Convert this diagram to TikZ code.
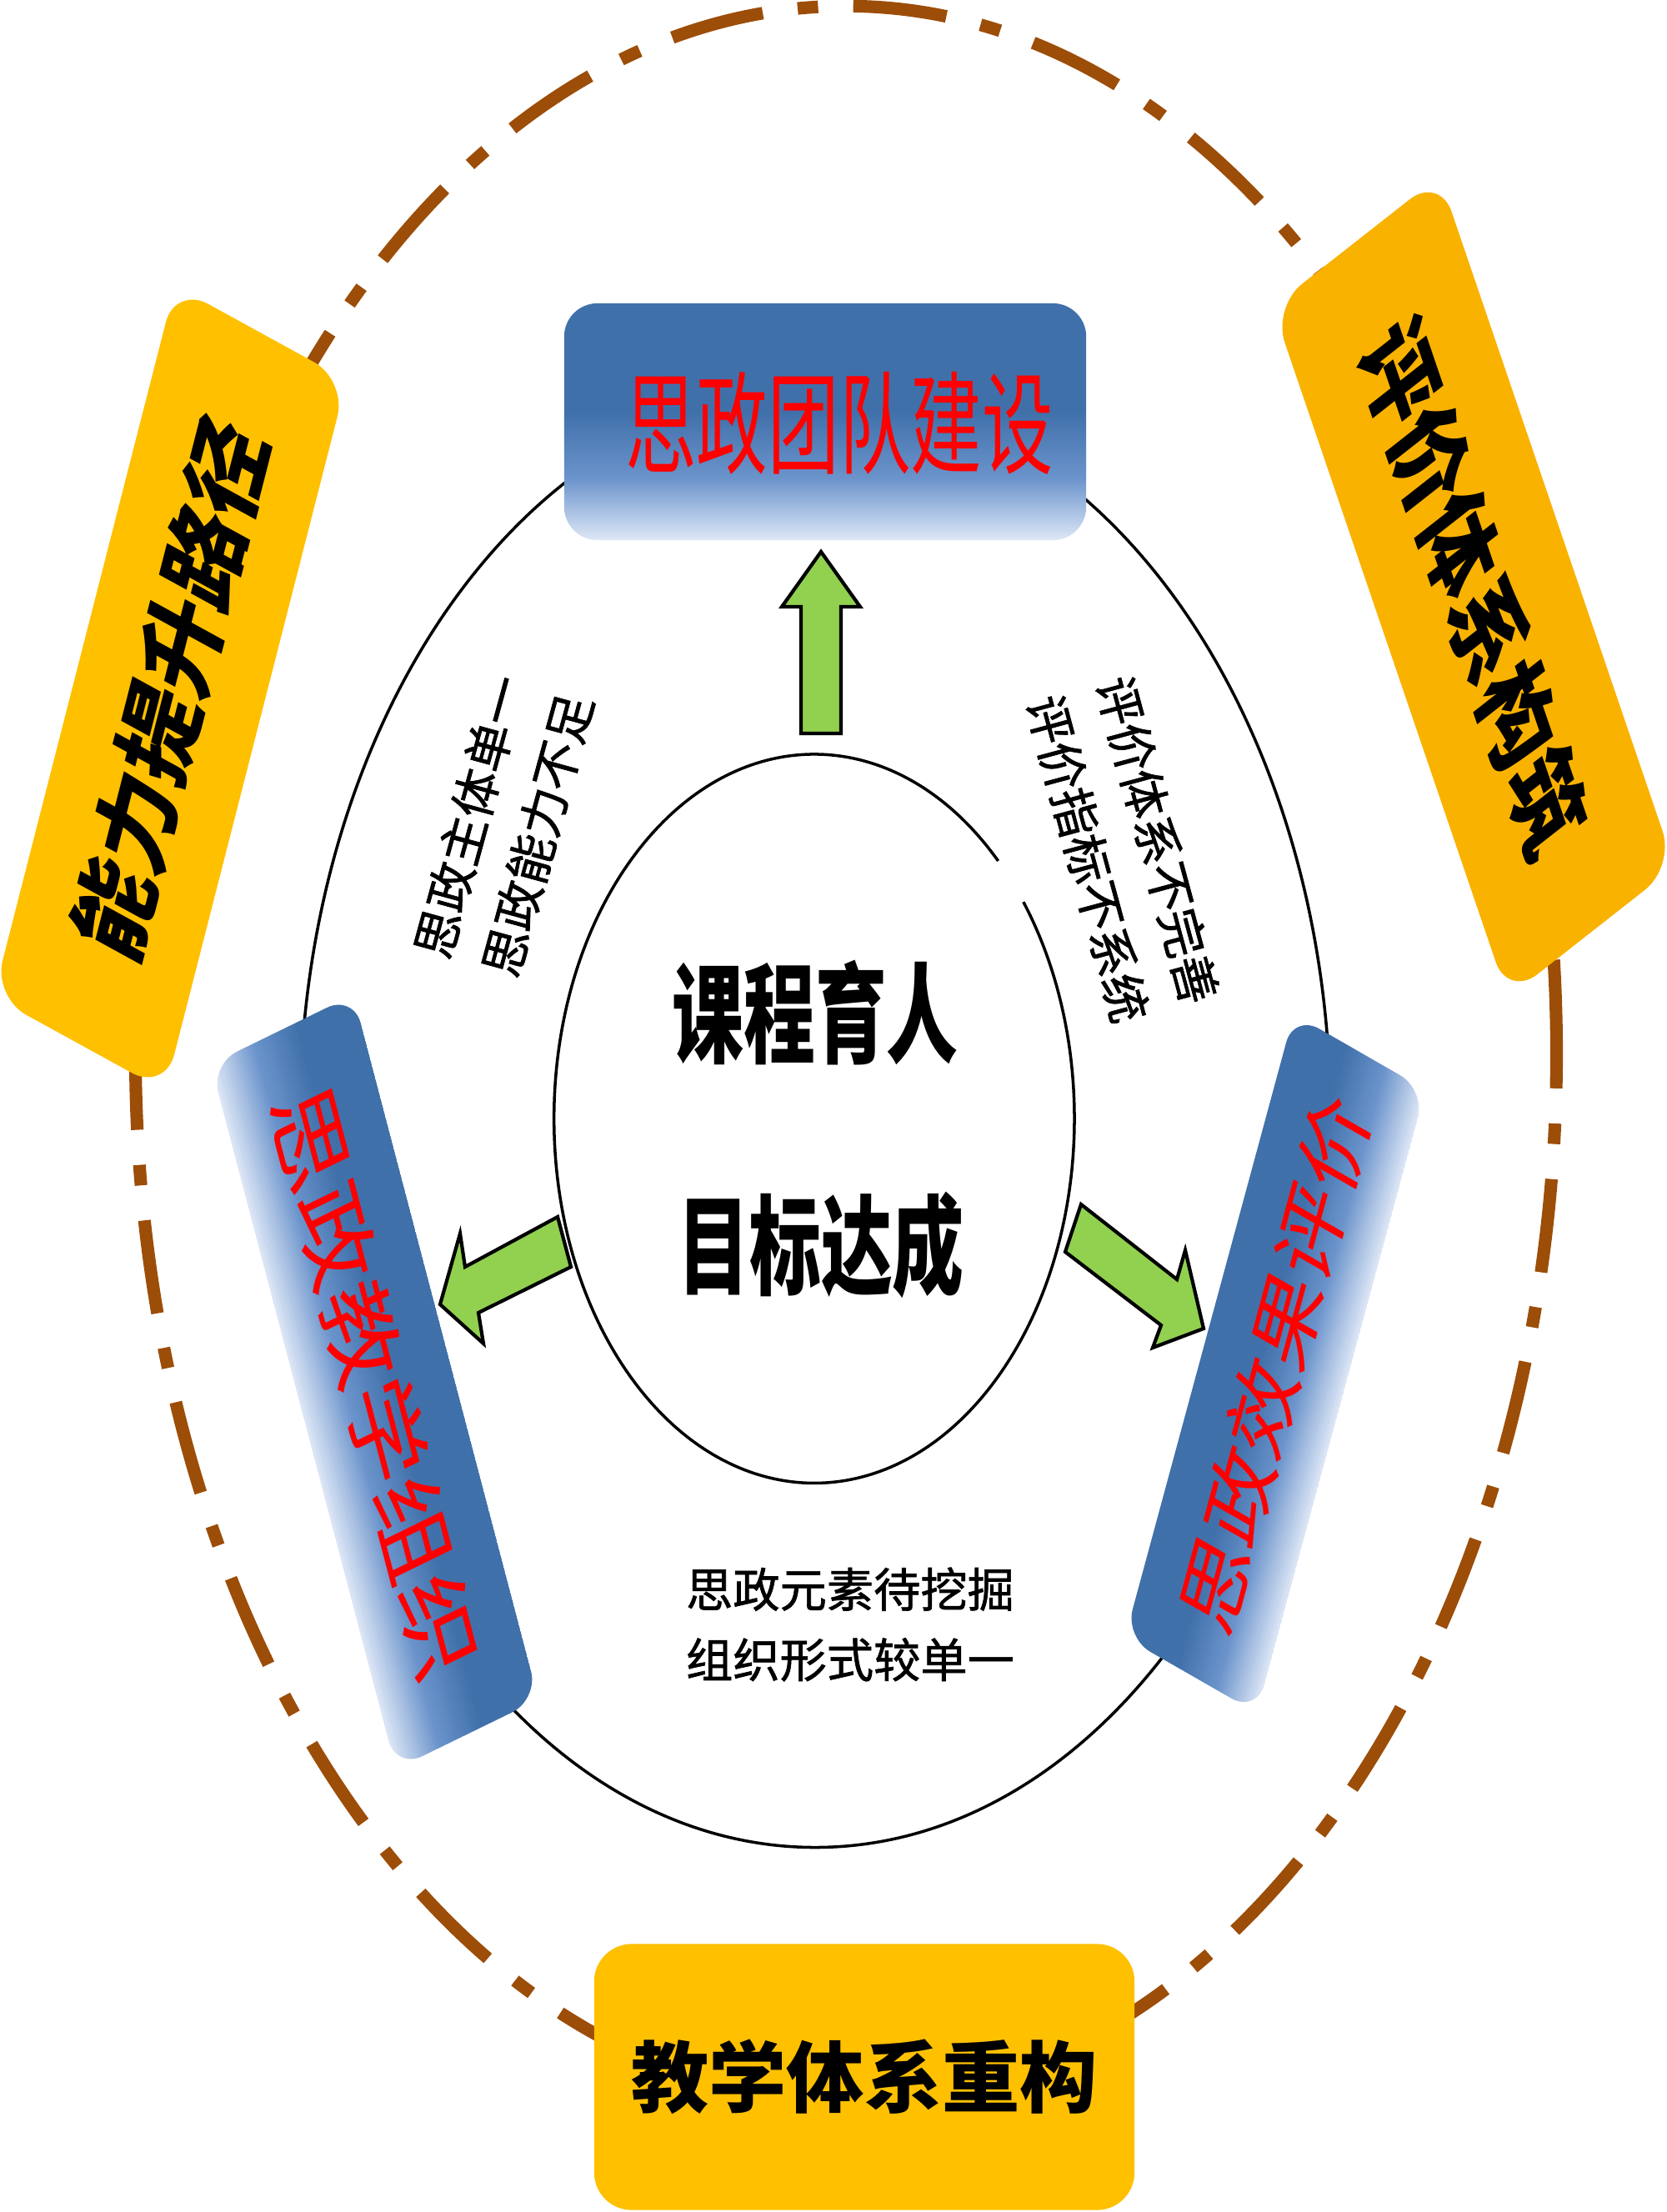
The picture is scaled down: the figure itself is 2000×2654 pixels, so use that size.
\documentclass[tikz,border=0pt]{standalone}
\usepackage{fontspec}
\usepackage{graphicx}
\newfontfamily\cjk{Noto Sans CJK SC}
\newfontfamily\cjkm{Noto Sans CJK SC}[FakeBold=1.2]
\definecolor{brownd}{RGB}{156,77,8}
\definecolor{yellowA}{RGB}{255,192,0}
\definecolor{yellowB}{RGB}{250,178,0}
\definecolor{greenA}{RGB}{146,208,80}
\definecolor{bDark}{RGB}{64,112,170}
\definecolor{bMid}{RGB}{108,148,204}
\definecolor{bLight}{RGB}{222,231,246}
\pgfdeclareverticalshading{blueshade}{100bp}{color(0bp)=(bLight); color(25bp)=(bLight); color(38bp)=(bMid); color(52bp)=(bDark); color(100bp)=(bDark)}
\newcommand{\slantfill}[2]{% half length, half width (local frame)
  \begin{scope}
    \clip[rounded corners=0.35cm] (-#1,-#2) rectangle (#1,#2);
    \foreach \k in {0,...,47} {
      \pgfmathsetmacro\ff{(\k+0.5)/48}
      \pgfmathsetmacro\pa{min(100,max(0,\ff/0.3*100))}
      \pgfmathsetmacro\pb{min(100,max(0,(\ff-0.3)/0.3*100))}
      \colorlet{tmpA}{bMid!\pa!bLight}
      \colorlet{tmpB}{bDark!\pb!tmpA}
      \fill[tmpB] (-#1-0.2cm,{-#2+\k*2*#2/48}) rectangle (#1+0.2cm,{-#2+(\k+1.1)*2*#2/48});
    }
  \end{scope}}
\begin{document}
\begin{tikzpicture}[x=0.01cm,y=-0.01cm,
  ybox/.style={rounded corners=0.45cm, inner sep=0pt, draw=none},
  btext/.style={inner sep=0pt, text=red, transform shape},
  garrow/.style={fill=greenA, draw=black, line width=1.2pt, line join=miter},
  ring/.style={draw=black, line width=1pt},
  dashring/.style={draw=brownd, line width=4.3pt, dash pattern=on 32pt off 12pt on 7pt off 12pt},
  small/.style={font=\cjkm\fontsize{16.5}{24}\selectfont, align=center, inner sep=0pt}]
\useasboundingbox (0,0) rectangle (2000,2654);
\fill[white] (0,0) rectangle (2000,2654);

% outer dash-dot ring
\draw[dashring] (1015,1264) ellipse [x radius=8.52cm, y radius=12.56cm];

% yellow boxes
\node (ability) [ybox, fill=yellowA, minimum width=8.8cm, minimum height=2.35cm,
  cm={0.2477,0.9688,-0.8755,0.4807,(0,0)},
  font=\cjk\bfseries\fontsize{31}{34}\selectfont] at (204,826) {能力提升路径};
\node (evalsys) [ybox, fill=yellowB, minimum width=8.75cm, minimum height=2.54cm,
  cm={0.3223,-0.9463,0.7874,0.6181,(0,0)},
  font=\cjk\bfseries\fontsize{31}{34}\selectfont] at (1768,704) {评价体系构筑};
\node (reform) [ybox, fill=yellowA, minimum width=6.48cm, minimum height=3.19cm,
  font=\cjk\bfseries\fontsize{26.5}{30}\selectfont] at (1037,2492) {教学体系重构};

% middle ring
\draw[ring] (978,1343) ellipse [x radius=6.18cm, y radius=8.73cm];

% blue boxes
\node (team) [inner sep=0pt, shading=blueshade, rounded corners=0.4cm, minimum width=6.26cm, minimum height=2.84cm] at (990,506) {};
\node (teamtext) [inner sep=0pt, text=red, font=\cjk\fontsize{38}{40}\selectfont] at (1007,508) {\scalebox{0.64}[1]{思政团队建设}};

\begin{scope}[shift={(449.5,1658)}, cm={0.254,-0.9668,0.8986,0.4388,(0,0)}]
  \slantfill{4.37cm}{0.95cm}
  \node (teach) [btext, font=\cjk\fontsize{28}{30}\selectfont] at (0cm,0cm) {\scalebox{1.23}[1]{思政教学组织}};
\end{scope}

\begin{scope}[shift={(1530,1636)}, cm={0.2615,0.9653,-0.8673,0.4983,(0,0)}]
  \slantfill{3.87cm}{0.91cm}
  \node (effect) [btext, font=\cjk\fontsize{25.5}{28}\selectfont] at (0cm,0cm) {\scalebox{1.22}[1]{思政效果评价}};
\end{scope}

% inner ring with a small gap
\draw[ring] (1197.6,1033) arc [start angle=45, end angle=396.5, x radius=3.12cm, y radius=4.37cm];

% green block arrows
\draw[garrow] (961,880) -- (961,728) -- (938,728) -- (985,662) -- (1032,728) -- (1009,728) -- (1009,880) -- cycle;
\draw[garrow] (669,1460) -- (558,1520) -- (552,1480) -- (528,1565) -- (580,1612) -- (574,1575) -- (685,1520) -- cycle;
\draw[garrow] (1297,1445) -- (1412,1535) -- (1422,1500) -- (1444,1594) -- (1383,1617) -- (1393,1590) -- (1278,1502) -- cycle;

% centre texts
\node (goal1) [font=\cjk\bfseries\fontsize{37}{40}\selectfont, inner sep=0pt] at (978,1215) {\scalebox{0.66}[1]{课程育人}};
\node (goal2) [font=\cjk\bfseries\fontsize{37}{40}\selectfont, inner sep=0pt] at (985,1494) {\scalebox{0.66}[1]{目标达成}};

% small problem texts
\node (probL) [small, rotate=74.7] at (604,991) {思政主体单一\\思政能力不足};
\node (probR) [small, rotate=-74.9, font=\cjkm\fontsize{16.4}{24.6}\selectfont] at (1347,1019) {评价体系不完善\\评价指标不系统};
\node (probB) [small, font=\cjkm\fontsize{16}{24}\selectfont] at (1020,1949) {思政元素待挖掘\\组织形式较单一};
\end{tikzpicture}
\end{document}
